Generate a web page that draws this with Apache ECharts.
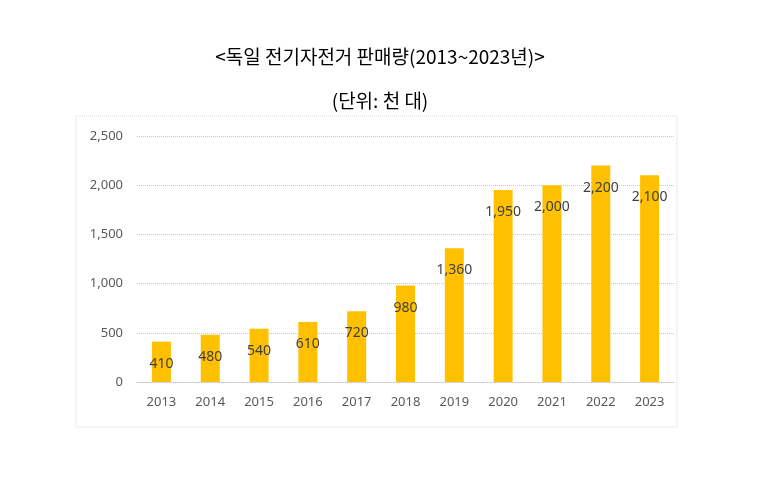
<!DOCTYPE html>
<html><head><meta charset="utf-8">
<script src="https://cdn.jsdelivr.net/npm/echarts@6/dist/echarts.min.js"></script>
<style>html,body{margin:0;padding:0;background:#fff}#c{width:760px;height:483px}</style>
</head><body><div id="c"></div>
<script>
const categories = ['2013','2014','2015','2016','2017','2018','2019','2020','2021','2022','2023'];
const sales = [410,480,540,610,720,980,1360,1950,2000,2200,2100];
const titleText = '<독일 전기자전거 판매량(2013~2023년)>';
const subtitleText = '(단위: 천 대)';

const chart = echarts.init(document.getElementById('c'));
chart.setOption({
  animation:false,
  backgroundColor:'#fff',
  title:[
    {text:titleText,left:'center',top:42,textStyle:{fontFamily:'Noto Sans CJK KR',fontSize:19,fontWeight:'normal',color:'#000'}},
    {text:subtitleText,left:'center',top:86,textStyle:{fontFamily:'Noto Sans CJK KR',fontSize:19,fontWeight:'normal',color:'#000'}}
  ],
  graphic:[{type:'rect',shape:{x:76,y:116,width:601,height:311},style:{fill:'none',stroke:'#d9d9d9',lineWidth:1,lineDash:[1,1]},silent:true}],
  grid:{left:137,right:86,top:136,bottom:101},
  xAxis:{type:'category',data:categories,
    axisLine:{lineStyle:{color:'#c8c8c8',type:[1,1]}},axisTick:{show:false},
    axisLabel:{color:'#595959',fontFamily:'Noto Sans',fontSize:13,margin:14}},
  yAxis:{type:'value',min:0,max:2500,interval:500,
    axisLine:{show:false},axisTick:{show:false},
    splitLine:{lineStyle:{color:'#c8c8c8',type:[1,1]}},
    axisLabel:{color:'#595959',fontFamily:'Noto Sans',fontSize:13,margin:14,
      formatter:v=>v.toLocaleString('en-US')}},
  series:[{type:'bar',data:sales,barWidth:19,itemStyle:{color:'#FFC000'},
    label:{show:true,position:'insideTop',distance:15,color:'#404040',fontFamily:'Noto Sans',fontSize:14,
      formatter:p=>p.value.toLocaleString('en-US')}}]
});
</script></body></html>
